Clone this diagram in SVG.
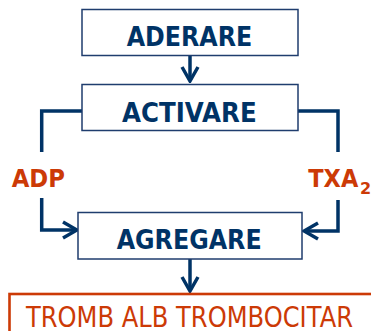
<svg xmlns="http://www.w3.org/2000/svg" width="371" height="331" viewBox="0 0 371 331">
  <style>
    .box { fill: #ffffff; stroke: #1f3d6e; stroke-width: 1.5; }
    .res { fill: #ffffff; stroke: #cc3a06; stroke-width: 2.6; }
    .lbl { font-family: "DejaVu Sans", Verdana, sans-serif; font-weight: bold; font-size: 26px; fill: #003366; }
    .fac { font-family: "DejaVu Sans", Verdana, sans-serif; font-weight: bold; font-size: 25px; fill: #cc3a06; }
    .out { font-family: "DejaVu Sans", Verdana, sans-serif; font-size: 28px; fill: #cc3a06; }
    .con { fill: none; stroke: #003366; stroke-width: 3.5; stroke-linejoin: miter; }
  </style>
  <defs>
    <marker id="arr" viewBox="-18 -11 20 22" markerWidth="20" markerHeight="22" refX="0" refY="0" orient="auto" markerUnits="userSpaceOnUse">
      <path d="M -14 -8 L 0 0 L -14 8" fill="none" stroke="#003366" stroke-width="3.5"/>
    </marker>
  </defs>

  <g id="connectors">
    <path class="con" d="M 190 56 L 190 81" marker-end="url(#arr)"/>
    <path class="con" d="M 82 111 L 41.7 111 L 41.7 152"/>
    <path class="con" d="M 298 111 L 338 111 L 338 152"/>
    <path class="con" d="M 41.7 198 L 41.7 230 L 77 230" marker-end="url(#arr)"/>
    <path class="con" d="M 338 200 L 338 231 L 304 231" marker-end="url(#arr)"/>
    <path class="con" d="M 190 259 L 190 291" marker-end="url(#arr)"/>
  </g>

  <g id="aderare">
    <rect class="box" x="82" y="9.5" width="216" height="46"/>
    <text class="lbl" x="126.7" y="45.7" textLength="125.6" lengthAdjust="spacingAndGlyphs">ADERARE</text>
  </g>
  <g id="activare">
    <rect class="box" x="82" y="84.5" width="216" height="46"/>
    <text class="lbl" x="122" y="121.7" textLength="134.7" lengthAdjust="spacingAndGlyphs">ACTIVARE</text>
  </g>
  <g id="adp">
    <text class="fac" x="11.7" y="186.7" textLength="53.3" lengthAdjust="spacingAndGlyphs">ADP</text>
  </g>
  <g id="txa2">
    <text class="fac" x="308.3" y="186.7"><tspan textLength="50" lengthAdjust="spacingAndGlyphs">TXA</tspan><tspan x="360" y="193.5" font-size="16">2</tspan></text>
  </g>
  <g id="agregare">
    <rect class="box" x="78" y="212.5" width="224" height="46.5"/>
    <text class="lbl" x="116.7" y="249" textLength="145" lengthAdjust="spacingAndGlyphs">AGREGARE</text>
  </g>
  <g id="tromb">
    <rect class="res" x="9.5" y="294" width="372" height="60"/>
    <text class="out" x="26" y="326.7" textLength="327" lengthAdjust="spacingAndGlyphs">TROMB ALB TROMBOCITAR</text>
  </g>
</svg>
